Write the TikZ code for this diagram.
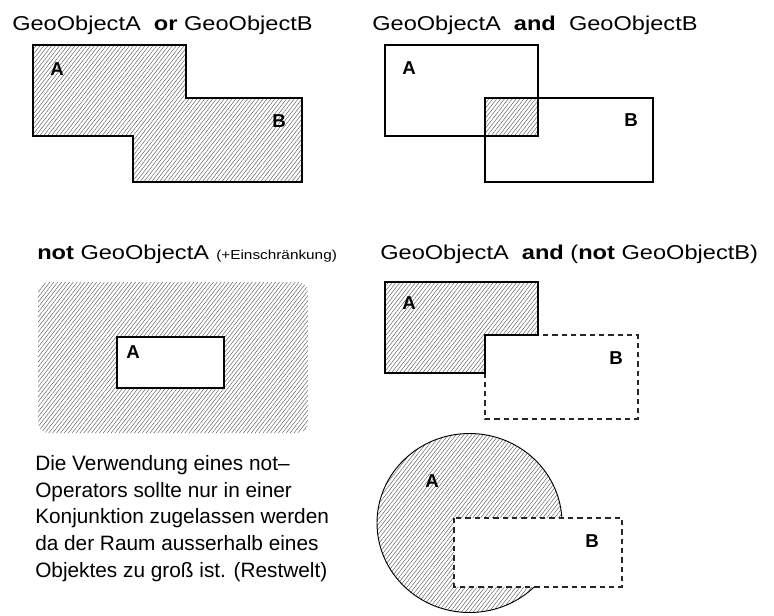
\documentclass[tikz,border=0pt]{standalone}
\usepackage{fontspec}
\setmainfont{Liberation Sans}
\newfontfamily\widesans[FakeStretch=1.18]{Liberation Sans}
\usepackage{tikz}
\usetikzlibrary{patterns.meta}

\begin{document}
\begin{tikzpicture}[
  x=0.75pt, y=-0.75pt,
  outline/.style={line width=0.9pt, draw=black},
  hatched/.style={pattern={Lines[angle=52, distance=2.3pt, line width=0.3pt]}, pattern color=black!70},
  dashedbox/.style={line width=0.9pt, draw=black!85, dash pattern=on 4pt off 3pt},
  title/.style={anchor=base west, inner sep=0pt, font=\widesans\fontsize{15}{18}\selectfont},
  letter/.style={inner sep=0pt, font=\fontsize{14}{16}\selectfont\bfseries}
]
  \useasboundingbox (0,0) rectangle (774,615);

  % A or B
  \node[title] (ortitle) at (12,30) {GeoObjectA\ \ \textbf{or} GeoObjectB};
  \filldraw[outline, hatched] (33,45) -- (186,45) -- (186,98) -- (302,98) -- (302,182)
    -- (133,182) -- (133,136) -- (33,136) -- cycle;
  \node[letter] (orA) at (57,69) {A};
  \node[letter] (orB) at (279,121) {B};

  % A and B
  \node[title] (andtitle) at (372,30) {GeoObjectA\ \ \textbf{and}\ \ GeoObjectB};
  \fill[hatched] (485,98) rectangle (538,136);
  \draw[outline] (385,45) rectangle (538,136);
  \draw[outline] (485,98) rectangle (653,182);
  \node[letter] (andA) at (409,68) {A};
  \node[letter] (andB) at (631,120) {B};

  % not A
  \node[title] (nottitle) at (37,259) {\textbf{not} GeoObjectA};
  \node[anchor=base west, inner sep=0pt, font=\widesans\fontsize{9.75}{12}\selectfont] (notnote) at (216,259) {(+Einschränkung)};
  \fill[hatched, rounded corners=8pt] (38,282) rectangle (308,433);
  \filldraw[outline, fill=white] (117,337) rectangle (224,388);
  \node[letter] (notA) at (133,352) {A};

  \node[anchor=north west, inner sep=0pt, align=left, font=\fontsize{15.6}{20.1}\selectfont] (remark) at (35,455)
    {Die Verwendung eines not--\\Operators sollte nur in einer\\Konjunktion zugelassen werden\\da der Raum ausserhalb eines\\Objektes zu groß ist. (Restwelt)};

  % A and (not B)
  \node[title] (andnottitle) at (380,259) {GeoObjectA\ \ \textbf{and} (\textbf{not} GeoObjectB)};
  \draw[dashedbox] (485,335) rectangle (638,419);
  \filldraw[outline, hatched] (385,282) -- (538,282) -- (538,335) -- (485,335)
    -- (485,373) -- (385,373) -- cycle;
  \node[letter] (andnotA) at (409,303) {A};
  \node[letter] (andnotB) at (616,358) {B};

  % circle variant
  \filldraw[outline, line width=0.7pt, hatched] (469.5,523) ellipse [x radius=92.5, y radius=89.5];
  \fill[white] (454,518) rectangle (622,587);
  \draw[dashedbox] (454,518) rectangle (622,587);
  \node[letter] (circA) at (432,481) {A};
  \node[letter] (circB) at (592,541) {B};
\end{tikzpicture}
\end{document}
